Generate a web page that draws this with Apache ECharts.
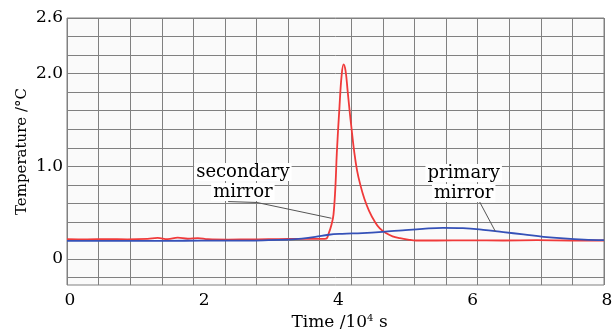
<!DOCTYPE html>
<html>
<head>
<meta charset="utf-8">
<script src="https://cdn.jsdelivr.net/npm/echarts@6/dist/echarts.min.js"></script>
<style>
  html, body { margin: 0; padding: 0; background: #fff; }
  #chart { width: 613px; height: 329px; }
</style>
</head>
<body>
<div id="chart"></div>
<script>
const FONT = "'DejaVu Serif', serif";

// y ticks: labels and the graph-paper lines (every 0.2 degC)
const yLabelValues = [0, 1.0, 2.0, 2.6];
const yGridValues = [-0.2, 0, 0.2, 0.4, 0.6, 0.8, 1.0, 1.2, 1.4, 1.6, 1.8, 2.0, 2.2, 2.4, 2.6];

// secondary mirror (red), time in 10^4 s
const secondaryTime = [0, 0.3, 0.6, 0.9, 1.2, 1.35, 1.5, 1.65, 1.8, 1.95, 2.1, 2.4, 2.7, 3.0, 3.3, 3.6, 3.8, 3.86,
  3.9, 3.94, 3.97, 4.0, 4.02, 4.06, 4.09, 4.12, 4.15, 4.18, 4.21, 4.24, 4.28, 4.32, 4.37, 4.43, 4.5, 4.58, 4.66,
  4.75, 4.85, 4.96, 5.08, 5.2, 5.5, 6.0, 6.5, 7.0, 7.5, 8.0];
const secondaryTemp = [0.215, 0.212, 0.215, 0.213, 0.218, 0.228, 0.214, 0.23, 0.219, 0.226, 0.214, 0.21, 0.212, 0.214,
  0.216, 0.218, 0.218, 0.22, 0.28, 0.37, 0.48, 0.8, 1.15, 1.65, 1.97, 2.1, 2.03, 1.82, 1.6, 1.4, 1.15, 0.96, 0.8,
  0.65, 0.52, 0.41, 0.33, 0.28, 0.245, 0.225, 0.21, 0.2, 0.2, 0.202, 0.2, 0.203, 0.2, 0.2];

// primary mirror (blue)
const primaryTime = [0, 0.5, 1, 1.5, 2, 2.5, 3, 3.3, 3.5, 3.7, 3.9, 4.1, 4.4, 4.7, 5.0, 5.3, 5.6, 5.9, 6.2, 6.5,
  6.8, 7.1, 7.4, 7.7, 8];
const primaryTemp = [0.197, 0.197, 0.197, 0.197, 0.198, 0.198, 0.203, 0.21, 0.22, 0.238, 0.262, 0.272, 0.28, 0.293,
  0.31, 0.326, 0.337, 0.333, 0.315, 0.29, 0.266, 0.24, 0.222, 0.21, 0.205];

// leader lines for the two labels
const secondaryLeader = [[2.40, 0.62], [2.83, 0.61], [3.94, 0.44]];
const primaryLeader = [[5.68, 0.64], [6.13, 0.64], [6.38, 0.30]];
const secondaryLabelAt = [2.62, 0.83];
const primaryLabelAt = [5.91, 0.82];

const pairs = (xs, ys) => xs.map((x, i) => [x, ys[i]]);

function leaderSeries(name, points, labelAt) {
  return {
    name: name,
    type: "line",
    data: points,
    symbol: "none",
    silent: true,
    z: 4,
    lineStyle: { color: "#555", width: 1 },
    markPoint: {
      symbol: "circle",
      symbolSize: 0,
      silent: true,
      data: [{ coord: labelAt }],
      label: {
        show: true,
        position: "inside",
        formatter: name.split(" ").map((w) => "{a|" + w + "}").join("\n"),
        rich: {
          a: {
            fontFamily: FONT,
            fontSize: 18,
            color: "#000",
            backgroundColor: "#fff",
            lineHeight: 20,
            padding: [0, 2],
          },
        },
      },
    },
  };
}

const chart = echarts.init(document.getElementById("chart"));

chart.setOption({
  animation: false,
  backgroundColor: "#fff",
  grid: {
    left: 67,
    right: 9,
    top: 18,
    bottom: 44,
    containLabel: false,
    outerBoundsMode: "none",
    show: true,
    backgroundColor: "#fafafa",
    borderColor: "#808080",
    borderWidth: 1,
  },
  xAxis: [
    {
      type: "value",
      min: 0,
      max: 8,
      interval: 2,
      name: "Time /10{sup|4} s",
      nameLocation: "middle",
      nameGap: 27,
      nameTextStyle: {
        fontFamily: FONT,
        fontSize: 17,
        color: "#000",
        padding: [0, 0, 0, 8],
        rich: { sup: { fontFamily: FONT, fontSize: 10, verticalAlign: "top", padding: [0, 0, 6, 0], color: "#000" } },
      },
      axisLine: { show: false },
      axisTick: { show: false },
      splitLine: { show: false },
      axisLabel: { fontFamily: FONT, fontSize: 17, color: "#000", margin: 7, padding: [0, 0, 0, 6] },
    },
    {
      // graph-paper columns
      type: "value",
      min: 0,
      max: 17,
      interval: 1,
      position: "top",
      axisLine: { show: false },
      axisTick: { show: false },
      axisLabel: { show: false },
      splitLine: { show: true, lineStyle: { color: "#808080", width: 1 } },
    },
  ],
  yAxis: {
    type: "value",
    min: -0.28,
    max: 2.6,
    name: "Temperature /\u00b0C",
    nameLocation: "middle",
    nameGap: 37,
    nameMoveOverlap: false,
    nameTextStyle: { fontFamily: FONT, fontSize: 15, color: "#000" },
    axisLine: { show: false },
    axisTick: { show: false, customValues: yGridValues },
    splitLine: { show: true, lineStyle: { color: "#808080", width: 1 } },
    axisLabel: {
      customValues: yLabelValues,
      fontFamily: FONT,
      fontSize: 17,
      color: "#000",
      margin: 4,
      formatter: (v) => (v === 0 ? "0" : v.toFixed(1)),
    },
  },
  series: [
    {
      name: "secondary",
      type: "line",
      data: pairs(secondaryTime, secondaryTemp),
      symbol: "none",
      smooth: 0.4,
      z: 3,
      lineStyle: { color: "#f03a3a", width: 1.8 },
    },
    {
      name: "primary",
      type: "line",
      data: pairs(primaryTime, primaryTemp),
      symbol: "none",
      smooth: 0.4,
      z: 3,
      lineStyle: { color: "#3551b8", width: 1.8 },
    },
    leaderSeries("secondary mirror", secondaryLeader, secondaryLabelAt),
    leaderSeries("primary mirror", primaryLeader, primaryLabelAt),
  ],
});
</script>
</body>
</html>
